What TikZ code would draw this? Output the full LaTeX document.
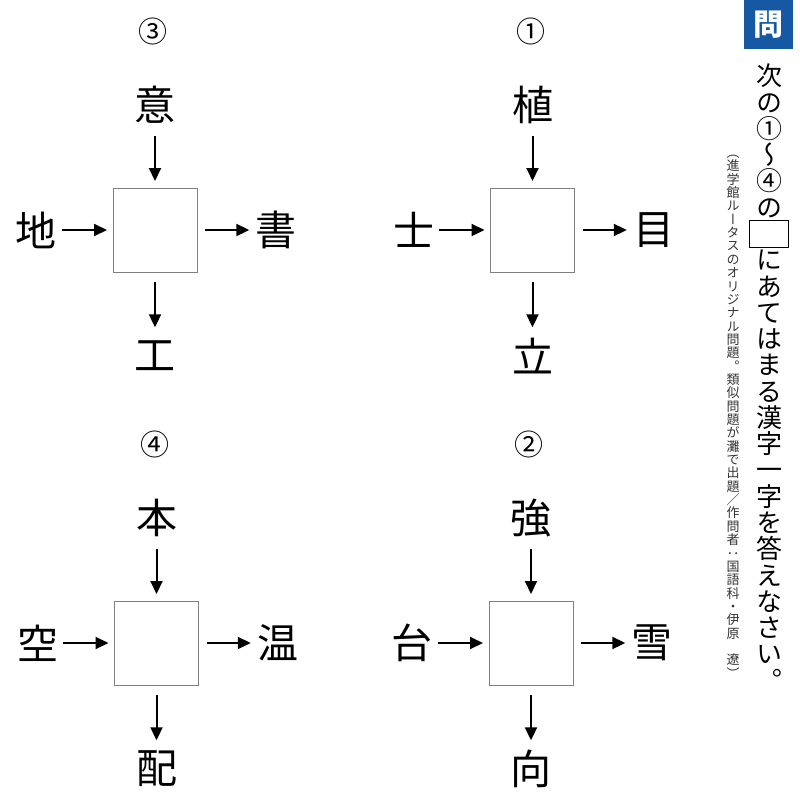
\documentclass[tikz,border=0pt]{standalone}
\usepackage{fontspec}
\usetikzlibrary{arrows.meta}
\newfontfamily\jpfont{Noto Sans CJK JP}
\newfontfamily\tatefont[RawFeature={+vert}]{Noto Sans CJK JP}
\definecolor{toiblue}{RGB}{22,88,164}

\begin{document}
\begin{tikzpicture}[x=1pt, y=-1pt,
    kanji/.style={font=\jpfont\fontsize{41}{41}\selectfont, inner sep=0pt, minimum size=41pt},
    blank/.style={draw=gray, line width=0.8pt, minimum size=84pt, inner sep=0pt, outer sep=0pt},
    num/.style={font=\jpfont\fontsize{29}{29}\selectfont, inner sep=0pt},
    arr/.style={-{Triangle[length=13pt,width=12pt]}, line width=2pt},
    tate/.style={font=\tatefont\fontsize{26}{26}\selectfont, inner sep=0pt, text height=22.9pt, text depth=3.1pt},
    tatesmall/.style={font=\tatefont\fontsize{13}{13}\selectfont, inner sep=0pt, text height=11.4pt, text depth=1.6pt, text=black!80}]
        \useasboundingbox (0,0) rectangle (800,811);
        % Four puzzles: box, number, four kanji and arrows
        \foreach \n/\cx/\cy/\lab/\kup/\kleft/\kright/\kdown in {
            c/155/230/③/意/地/書/工,
            a/532.5/230/①/植/士/目/立,
            d/156.5/643/④/本/空/温/配,
            b/531/643/②/強/台/雪/向} {
            \node[blank] (box\n) at (\cx,\cy) {};
            \node[num] (num\n) at (\cx-2,\cy-199) {\lab};
            \node[kanji] (up\n) at (\cx,\cy-125) {\kup};
            \node[kanji] (left\n) at (\cx-119,\cy) {\kleft};
            \node[kanji] (right\n) at (\cx+121,\cy) {\kright};
            \node[kanji] (down\n) at (\cx,\cy+126) {\kdown};
            \draw[arr, shorten <=10pt, shorten >=7pt] (up\n) -- (box\n);
            \draw[arr, shorten <=5pt, shorten >=6pt] (left\n) -- (box\n);
            \draw[arr, shorten <=8pt, shorten >=6pt] (box\n) -- (right\n);
            \draw[arr, shorten <=10pt, shorten >=8pt] (box\n) -- (down\n);
        }
        % Question mark box
        \node[fill=toiblue, minimum width=49pt, minimum height=49pt, inner sep=0pt, text=white,
              font=\jpfont\bfseries\fontsize{30}{30}\selectfont] (toi) at (768.5,24.5) {問};
        % Question text (vertical)
        \foreach \ch [count=\k] in {次,の,①,～,④,の,{},に,あ,て,は,ま,る,漢,字,一,字,を,答,え,な,さ,い,。} {
            \node[tate] (q\k) at (769,{76+(\k-1)*26.27}) {\ch};
        }
        \node[draw, line width=1.2pt, minimum width=39pt, minimum height=27pt, inner sep=0pt] (qbox) at (q7) {};
        % Source note (vertical)
        \foreach \ch [count=\k] in {（,進,学,館,ル,ー,タ,ス,の,オ,リ,ジ,ナ,ル,問,題,。,類,似,問,題,が,灘,で,出,題,／,作,問,者,：,国,語,科,・,伊,原,{},遼,）} {
            \node[tatesmall] (s\k) at (733,{152.6+(\k-1)*13.35}) {\ch};
        }
    \end{tikzpicture}
\end{document}
